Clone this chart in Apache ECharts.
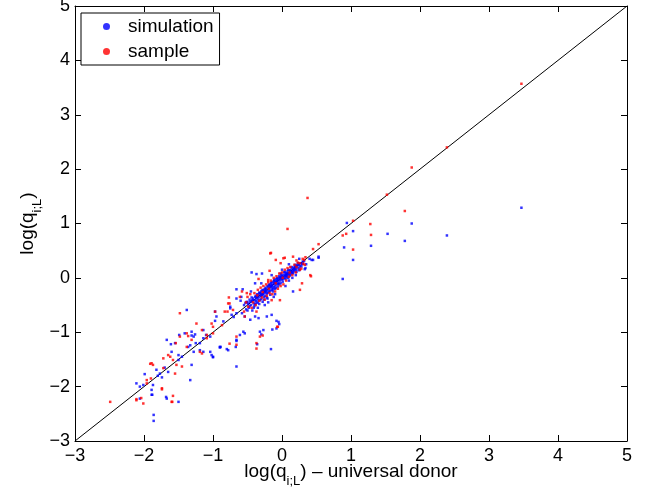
<!DOCTYPE html>
<html>
<head>
<meta charset="utf-8">
<script src="https://cdn.jsdelivr.net/npm/echarts@6/dist/echarts.min.js"></script>
<style>
html,body{margin:0;padding:0;background:#fff;}
#chart{width:660px;height:495px;}
</style>
</head>
<body>
<div id="chart"></div>
<script>
// ---- data ----
const seriesNames = ['simulation', 'sample'];
const xTickLabels = ['\u22123', '\u22122', '\u22121', '0', '1', '2', '3', '4', '5'];
const yTickLabels = ['\u22123', '\u22122', '\u22121', '0', '1', '2', '3', '4', '5'];
const axisRange = [-3, 5];
const diagonal = [[-3, -3], [5, 5]];

const simulation = [
  // right outliers
  [3.47,1.29],[1.88,1.00],[1.53,0.81],[1.78,0.68],[2.39,0.78],[0.94,1.01],[1.03,0.86],[0.90,0.56],
  [1.29,0.59],[0.53,0.37],[0.45,0.33],[1.03,0.33],[0.30,0.26],[0.34,0.18],[0.33,0.16],[0.88,-0.02],
  [0.43,0.33],[0.53,0.39],[0.16,-0.25],
  // lower-left tail
  [-1.86,-2.52],[-1.86,-2.63],[-2.11,-1.94],[-2.06,-2.00],[-2.01,-1.97],[-1.89,-2.15],[-1.68,-2.19],
  [-1.50,-2.28],[-1.33,-1.88],[-1.31,-1.60],[-1.65,-1.73],[-1.77,-1.76],[-1.50,-1.51],[-1.60,-1.36],
  [-1.67,-1.14],[-1.50,-1.42],[-1.36,-1.27],[-1.33,-1.24],[-1.55,-1.20],[-1.41,-1.02],[-1.19,-1.33],
  [-1.14,-1.11],[-1.04,-1.08],[-1.02,-1.42],[-1.00,-1.45],[-0.90,-1.27],[-0.78,-1.33],[-0.66,-1.63],
  [-0.66,-1.14],[-0.95,-0.71],[-0.73,-0.68],[-0.75,-0.53],[-0.66,-0.38],[-0.51,-0.44],[-0.54,-0.71],
  [-0.54,-1.02],[-0.61,-1.05],[-0.39,-0.71],[-0.34,-0.74],[-0.22,-0.71],[-0.15,-0.68],[-0.05,-0.81],
  [-0.04,-0.85],[-0.08,-0.93],[-0.27,-0.96],[-0.30,-1.04],[-0.16,-1.31],[-0.39,-0.10],[-0.29,0.08],
  [-0.44,0.10],[-0.37,0.07],[-0.57,-0.21],[-0.08,-0.79],[-0.14,-0.95],[-0.32,-0.99],[-0.36,-1.22],
  [-0.46,-0.77],[-0.89,-1.27],[-1.38,-0.59],
  [-1.67,-2.22],[-1.88,-2.15],[-2.06,-2.22],[-1.61,-1.22],[-1.49,-1.05],[-1.31,-1.06],[-1.26,-1.04],
  [-1.19,-1.20],[-1.28,-1.36],[-1.14,-1.36],[-1.04,-1.36],[-1.74,-1.83],[-1.82,-1.69],[-1.99,-1.77],
  [-1.87,-1.97],[-1.89,-2.06],[-0.66,-0.21],[-0.59,-0.35],[-0.97,-0.62],[-0.75,-0.56],[-0.66,-0.65],
  [-0.56,-0.99],[-0.67,-1.27],[-0.66,-1.16],[-0.80,-1.31],[-0.90,-1.28],[-1.00,-1.46],[-1.31,-0.99],
  [-1.28,-1.08],[-1.14,-0.96],[-0.97,-0.79],
  [-1.80,-1.80],[-1.70,-1.65],[-1.45,-1.45],[-1.25,-1.20],[-1.10,-1.05],[-0.85,-0.80],[-0.70,-0.72],
  // dense cluster
  [-0.55,-0.50],[-0.52,-0.58],[-0.50,-0.45],[-0.48,-0.55],[-0.47,-0.40],[-0.45,-0.50],[-0.44,-0.43],
  [-0.43,-0.60],[-0.42,-0.38],[-0.41,-0.47],[-0.40,-0.52],[-0.39,-0.35],[-0.38,-0.42],[-0.37,-0.46],
  [-0.36,-0.30],[-0.35,-0.40],[-0.34,-0.36],[-0.33,-0.48],[-0.32,-0.28],[-0.31,-0.34],[-0.30,-0.39],
  [-0.30,-0.25],[-0.29,-0.31],[-0.28,-0.44],[-0.27,-0.22],[-0.27,-0.30],[-0.26,-0.35],[-0.25,-0.27],
  [-0.24,-0.18],[-0.24,-0.33],[-0.23,-0.24],[-0.22,-0.29],[-0.21,-0.15],[-0.21,-0.38],[-0.20,-0.22],
  [-0.19,-0.26],[-0.18,-0.12],[-0.18,-0.19],[-0.17,-0.31],[-0.16,-0.16],[-0.15,-0.22],[-0.15,-0.08],
  [-0.14,-0.13],[-0.13,-0.25],[-0.12,-0.10],[-0.12,-0.17],[-0.11,-0.05],[-0.10,-0.14],[-0.10,-0.20],
  [-0.09,-0.08],[-0.08,-0.02],[-0.08,-0.12],[-0.07,-0.06],[-0.06,-0.16],[-0.05,-0.01],[-0.05,-0.09],
  [-0.04,0.03],[-0.03,-0.05],[-0.02,-0.10],[-0.02,0.01],[-0.01,0.06],[0.00,-0.03],[0.00,0.03],
  [0.01,-0.07],[0.02,0.05],[0.03,0.00],[0.03,0.10],[0.04,0.04],[0.05,-0.02],[0.06,0.08],[0.07,0.03],
  [0.08,0.12],[0.08,0.06],[0.09,0.00],[0.10,0.09],[0.11,0.14],[0.12,0.06],[0.13,0.11],[0.14,0.17],
  [0.15,0.08],[0.16,0.13],[0.17,0.19],[0.18,0.12],[0.19,0.16],[0.20,0.22],[0.21,0.15],[0.22,0.19],
  [0.24,0.24],[0.25,0.18],[0.27,0.27],[0.28,0.21],[0.30,0.30],
  [-0.60,-0.42],[-0.58,-0.65],[-0.35,-0.55],[-0.25,-0.50],[-0.20,-0.45],[-0.10,-0.30],[0.05,-0.15],
  [0.15,0.00],[0.20,0.05],[-0.45,-0.25],[-0.30,-0.10],[-0.15,0.05],[0.00,0.15],[0.10,0.25],
  [0.25,0.35],[-0.12,-0.35],[0.10,-0.05],[0.35,0.25],[0.40,0.35],
  [-0.49,-0.48],[-0.46,-0.44],[-0.43,-0.41],[-0.40,-0.41],[-0.37,-0.37],[-0.34,-0.31],[-0.31,-0.29],
  [-0.28,-0.30],[-0.26,-0.24],[-0.23,-0.20],[-0.20,-0.17],[-0.17,-0.15],[-0.14,-0.18],[-0.11,-0.09],
  [-0.08,-0.06],[-0.06,-0.04],[-0.03,0.00],[-0.01,-0.01],[0.02,0.00],[0.05,0.06],[0.07,0.09],
  [0.09,0.07],[0.12,0.13],[0.14,0.11],[0.17,0.15],[0.19,0.20],[0.22,0.23],[0.26,0.22],
  [-0.47,-0.52],[-0.44,-0.36],[-0.41,-0.55],[-0.38,-0.33],[-0.35,-0.45],[-0.33,-0.27],[-0.32,-0.41],
  [-0.29,-0.23],[-0.26,-0.40],[-0.24,-0.26],[-0.22,-0.36],[-0.19,-0.13],[-0.17,-0.24],[-0.16,-0.10],
  [-0.13,-0.21],[-0.11,-0.03],[-0.09,-0.18],[-0.07,0.00],[-0.04,-0.12],[-0.02,0.08],[0.01,-0.02],
  [0.04,0.11],[0.06,0.01],[0.09,0.15],[0.11,0.04],[0.14,0.20],[0.16,0.09],[0.19,0.24],[0.21,0.11],
  [0.23,0.27],[0.25,0.14],[0.29,0.25],[0.32,0.31],[-0.53,-0.46],[-0.50,-0.60],[-0.39,-0.48],
  [-0.36,-0.35],[-0.30,-0.33],[-0.25,-0.21],[-0.21,-0.27],[-0.15,-0.14],[-0.12,-0.06],[-0.06,-0.11],
  [-0.01,0.02],[0.06,0.04],[0.12,0.09],[0.18,0.17]
];

const sample = [
  // right outliers
  [3.47,3.57],[2.39,2.40],[1.88,2.03],[1.52,1.53],[1.78,1.23],[0.37,1.47],[1.03,1.05],[1.28,0.99],
  [0.93,0.81],[0.88,0.78],[1.29,0.79],[0.53,0.62],[1.03,0.52],[0.45,0.53],[0.34,0.38],[0.32,0.33],
  [0.33,0.24],[0.28,0.17],[0.42,0.03],[0.08,0.90],
  [-0.16,0.46],[-0.09,0.33],[0.04,0.37],[-0.02,0.27],[0.21,0.32],[0.31,0.26],
  // mid / tail
  [-0.18,0.13],[-0.34,-0.02],[-0.77,-0.36],[-1.48,-0.65],[-0.06,-0.90],[-0.28,-1.06],[-0.66,-1.08],
  [-0.76,-1.21],
  [-2.49,-2.28],[-2.11,-2.25],[-2.01,-2.31],[-2.04,-2.21],[-1.90,-1.85],[-1.96,-1.88],[-1.74,-2.03],
  [-1.58,-2.17],[-1.60,-2.28],[-1.87,-1.60],[-1.91,-1.58],[-1.72,-1.66],[-1.55,-1.76],[-1.53,-1.60],
  [-1.45,-1.63],[-1.62,-1.45],[-1.58,-1.51],[-1.38,-1.27],[-1.38,-1.02],[-1.48,-1.08],[-1.31,-1.14],
  [-1.16,-0.96],[-1.16,-1.39],[-1.09,-1.05],[-1.00,-1.02],[-1.00,-0.90],[-0.87,-0.87],[-0.66,-1.23],
  [-0.97,-0.62],[-0.79,-0.62],[-0.71,-0.59],[-0.78,-0.47],[-0.61,-0.35],[-0.51,-0.28],[-0.49,-0.53],
  [-0.37,-0.62],[-0.15,-0.41],[-0.07,-0.90],[-0.37,-1.20],[-0.37,-1.30],[-0.20,-0.04],[-0.17,0.45],
  [0.02,0.36],[0.41,0.05],[0.29,-0.10],[0.26,-0.22],[-0.03,-0.41],[0.16,0.39],[0.26,0.27],
  [-1.59,-2.28],[-2.11,-2.23],[-1.54,-1.20],[-1.36,-1.07],[-1.89,-1.57],[-1.72,-1.48],[-1.65,-1.42],
  [-1.96,-1.94],[-1.74,-2.05],[-0.58,-0.25],[-0.76,-0.47],[-0.83,-0.62],[-0.54,-0.71],[-0.32,-1.08],
  [-1.19,-1.36],[-1.09,-1.11],[-1.24,-0.84],[-1.02,-0.84],
  // dense cluster
  [-0.50,-0.35],[-0.46,-0.30],[-0.44,-0.55],[-0.40,-0.28],[-0.38,-0.50],[-0.35,-0.22],[-0.33,-0.42],
  [-0.31,-0.18],[-0.29,-0.36],[-0.27,-0.15],[-0.25,-0.40],[-0.23,-0.12],[-0.22,-0.33],[-0.20,-0.08],
  [-0.18,-0.28],[-0.16,-0.05],[-0.14,-0.30],[-0.12,0.00],[-0.10,-0.25],[-0.08,0.03],[-0.06,-0.20],
  [-0.04,0.08],[-0.02,-0.15],[0.00,0.10],[0.02,-0.12],[0.04,0.15],[0.06,-0.05],[0.08,0.18],
  [0.10,0.02],[0.12,0.20],[0.15,0.05],[0.18,0.24],[0.20,0.10],[0.23,0.28],[0.26,0.15],[0.30,0.35],
  [-0.55,-0.62],[-0.52,-0.45],[-0.42,-0.45],[-0.36,-0.32],[-0.28,-0.26],[-0.19,-0.20],[-0.09,-0.10],
  [0.01,0.00],[0.11,0.10],[0.21,0.20]
];

// ---- chart ----
const FONT = '"Liberation Sans", Arial, Helvetica, sans-serif';
const chart = echarts.init(document.getElementById('chart'), null, {renderer: 'canvas'});

const labelFromArray = (arr) => (v) => {
  const i = Math.round(v - axisRange[0]);
  return arr[i] !== undefined ? arr[i] : '';
};

const subRich = {
  a: {fontSize: 19, fontFamily: FONT, color: '#000', lineHeight: 32},
  s: {fontSize: 13, fontFamily: FONT, color: '#000', lineHeight: 13, padding: [18, 0, 0, 0]}
};

const axisCommon = {
  type: 'value',
  min: axisRange[0],
  max: axisRange[1],
  interval: 1,
  splitLine: {show: false},
  axisLine: {show: true, onZero: false, lineStyle: {color: '#000', width: 1}},
  axisTick: {show: true, inside: true, length: 6, lineStyle: {color: '#000', width: 1}}
};

chart.setOption({
  animation: false,
  backgroundColor: '#fff',
  grid: {left: 75, right: 33, top: 6, bottom: 54, containLabel: false, outerBoundsMode: 'none'},
  xAxis: [
    Object.assign({}, axisCommon, {
      position: 'bottom',
      axisLabel: {fontSize: 18, fontFamily: FONT, color: '#000', margin: 6,
                  formatter: labelFromArray(xTickLabels)},
      name: '{a|log(q}{s|i;L}{a|) \u2013 universal donor}',
      nameLocation: 'middle',
      nameGap: 15,
      nameMoveOverlap: false,
      nameTextStyle: {rich: subRich}
    }),
    Object.assign({}, axisCommon, {
      position: 'top',
      axisLabel: {show: false}
    })
  ],
  yAxis: [
    Object.assign({}, axisCommon, {
      position: 'left',
      axisLabel: {fontSize: 18, fontFamily: FONT, color: '#000', margin: 5,
                  formatter: labelFromArray(yTickLabels)},
      name: '{a|log(q}{s|i;L}{a|)}',
      nameLocation: 'middle',
      nameRotate: 90,
      nameGap: 31,
      nameMoveOverlap: false,
      nameTextStyle: {rich: subRich}
    }),
    Object.assign({}, axisCommon, {
      position: 'right',
      axisLabel: {show: false}
    })
  ],
  legend: {
    data: [
      {name: seriesNames[0], icon: 'circle', itemStyle: {color: '#0000ff'}},
      {name: seriesNames[1], icon: 'circle', itemStyle: {color: '#ff0000'}}
    ],
    orient: 'vertical',
    left: 81,
    top: 13,
    itemWidth: 7,
    itemHeight: 7,
    itemGap: 6,
    padding: [4, 6, 4, 22],
    borderColor: '#000',
    borderWidth: 1,
    borderRadius: 0,
    backgroundColor: '#fff',
    textStyle: {fontSize: 19, fontFamily: FONT, color: '#000', lineHeight: 19, padding: [0, 0, 0, 13]}
  },
  series: [
    {
      name: 'diagonal',
      type: 'line',
      data: diagonal,
      symbol: 'none',
      lineStyle: {color: '#000', width: 1},
      silent: true,
      z: 1
    },
    {
      name: seriesNames[0],
      type: 'scatter',
      data: simulation,
      symbol: 'rect',
      symbolSize: 2.5,
      itemStyle: {color: '#0000ff'},
      z: 2
    },
    {
      name: seriesNames[1],
      type: 'scatter',
      data: sample,
      symbol: 'rect',
      symbolSize: 2.5,
      itemStyle: {color: '#ff0000'},
      z: 2
    }
  ]
});
</script>
</body>
</html>
